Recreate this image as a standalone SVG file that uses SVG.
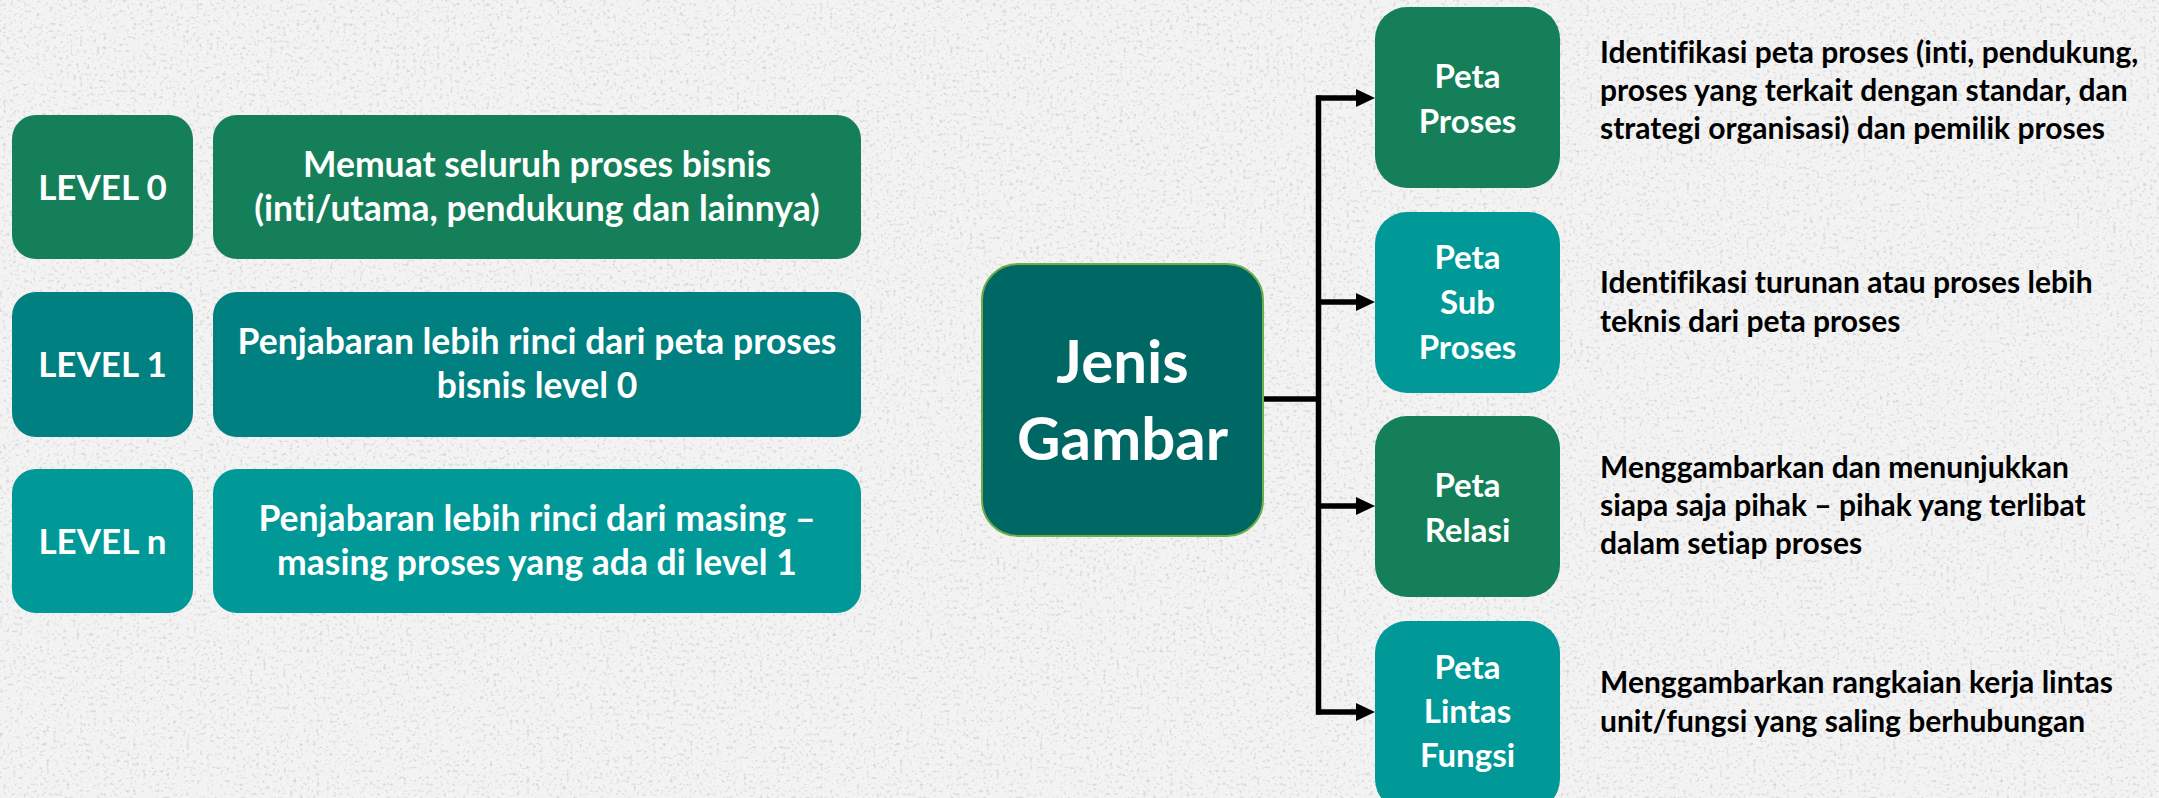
<svg xmlns="http://www.w3.org/2000/svg" width="2159" height="798" viewBox="0 0 2159 798">
  <style>
    text { font-variant-ligatures: none; }
    .lbl { font-family: Lato, "Open Sans", "Liberation Sans", sans-serif; font-weight: 700; fill: #ffffff; text-anchor: middle; }
    .lvl { font-size: 35px; }
    .main { font-size: 35.5px; }
    .peta { font-size: 33px; }
    .big { font-size: 60px; }
    .desc { font-family: Lato, "Open Sans", "Liberation Sans", sans-serif; font-weight: 700; font-size: 30px; fill: #000000; }
    .c-green { fill: #147f58; }
    .c-teal { fill: #008080; }
    .c-aqua { fill: #009997; }
    .conn { fill: none; stroke: #000000; stroke-width: 5.5; }
  </style>
  <defs>
    <filter id="grain" x="0" y="0" width="2159" height="798" filterUnits="userSpaceOnUse">
      <feTurbulence type="fractalNoise" baseFrequency="0.3" numOctaves="3" seed="11" result="noise"/>
      <feColorMatrix in="noise" type="matrix" values="0 0 0 0 0.68  0 0 0 0 0.68  0 0 0 0 0.68  4 0 0 0 -2.25"/>
    </filter>
    <marker id="head" markerUnits="userSpaceOnUse" markerWidth="20" markerHeight="19" refX="1" refY="9" orient="auto">
      <path d="M0,0 L19,9 L0,18 Z" fill="#000000"/>
    </marker>
  </defs>

  <!-- paper background -->
  <rect x="0" y="0" width="2159" height="798" fill="#f3f3f3"/>
  <rect x="0" y="0" width="2159" height="798" filter="url(#grain)"/>

  <!-- level rows -->
  <g id="level-0">
    <rect class="c-green" x="12" y="115" width="181" height="144" rx="24"/>
    <text class="lbl lvl" x="102.5" y="200">LEVEL 0</text>
  </g>
  <g id="level-0-desc">
    <rect class="c-green" x="213" y="115" width="648" height="144" rx="24"/>
    <text class="lbl main" x="537" y="177">Memuat seluruh proses bisnis</text>
    <text class="lbl main" x="537" y="221">(inti/utama, pendukung dan lainnya)</text>
  </g>
  <g id="level-1">
    <rect class="c-teal" x="12" y="292" width="181" height="145" rx="24"/>
    <text class="lbl lvl" x="102.5" y="377">LEVEL 1</text>
  </g>
  <g id="level-1-desc">
    <rect class="c-teal" x="213" y="292" width="648" height="145" rx="24"/>
    <text class="lbl main" x="537" y="354">Penjabaran lebih rinci dari peta proses</text>
    <text class="lbl main" x="537" y="398">bisnis level 0</text>
  </g>
  <g id="level-n">
    <rect class="c-aqua" x="12" y="469" width="181" height="144" rx="24"/>
    <text class="lbl lvl" x="102.5" y="554">LEVEL n</text>
  </g>
  <g id="level-n-desc">
    <rect class="c-aqua" x="213" y="469" width="648" height="144" rx="24"/>
    <text class="lbl main" x="537" y="531">Penjabaran lebih rinci dari masing –</text>
    <text class="lbl main" x="537" y="575">masing proses yang ada di level 1</text>
  </g>

  <!-- connectors -->
  <g id="connectors">
    <path class="conn" d="M1262,399 H1318.5"/>
    <path class="conn" d="M1318.5,95.5 V714.5"/>
    <path class="conn" d="M1316,98 H1357" marker-end="url(#head)"/>
    <path class="conn" d="M1318.5,302 H1357" marker-end="url(#head)"/>
    <path class="conn" d="M1318.5,506 H1357" marker-end="url(#head)"/>
    <path class="conn" d="M1316,712 H1357" marker-end="url(#head)"/>
  </g>

  <!-- central node -->
  <g id="jenis-gambar">
    <rect x="982" y="264" width="281" height="272" rx="36" fill="#006864" stroke="#70ad47" stroke-width="2"/>
    <text class="lbl big" x="1122.5" y="383">Jenis</text>
    <text class="lbl big" x="1122.5" y="460">Gambar</text>
  </g>

  <!-- map types -->
  <g id="peta-proses">
    <rect class="c-green" x="1375" y="7" width="185" height="181" rx="32"/>
    <text class="lbl peta" x="1467.5" y="88">Peta</text>
    <text class="lbl peta" x="1467.5" y="133">Proses</text>
  </g>
  <g id="peta-sub-proses">
    <rect class="c-aqua" x="1375" y="212" width="185" height="181" rx="32"/>
    <text class="lbl peta" x="1467.5" y="269">Peta</text>
    <text class="lbl peta" x="1467.5" y="314">Sub</text>
    <text class="lbl peta" x="1467.5" y="359">Proses</text>
  </g>
  <g id="peta-relasi">
    <rect class="c-green" x="1375" y="416" width="185" height="181" rx="32"/>
    <text class="lbl peta" x="1467.5" y="497">Peta</text>
    <text class="lbl peta" x="1467.5" y="542">Relasi</text>
  </g>
  <g id="peta-lintas-fungsi">
    <rect class="c-aqua" x="1375" y="621" width="185" height="190" rx="32"/>
    <text class="lbl peta" x="1467.5" y="679">Peta</text>
    <text class="lbl peta" x="1467.5" y="723">Lintas</text>
    <text class="lbl peta" x="1467.5" y="767">Fungsi</text>
  </g>

  <!-- descriptions -->
  <g id="desc-proses">
    <text class="desc" x="1600" y="63">Identifikasi peta proses (inti, pendukung,</text>
    <text class="desc" x="1600" y="101">proses yang terkait dengan standar, dan</text>
    <text class="desc" x="1600" y="139">strategi organisasi) dan pemilik proses</text>
  </g>
  <g id="desc-sub-proses">
    <text class="desc" x="1600" y="293">Identifikasi turunan atau proses lebih</text>
    <text class="desc" x="1600" y="332">teknis dari peta proses</text>
  </g>
  <g id="desc-relasi">
    <text class="desc" x="1600" y="478">Menggambarkan dan menunjukkan</text>
    <text class="desc" x="1600" y="516">siapa saja pihak – pihak yang terlibat</text>
    <text class="desc" x="1600" y="554">dalam setiap proses</text>
  </g>
  <g id="desc-lintas">
    <text class="desc" x="1600" y="693">Menggambarkan rangkaian kerja lintas</text>
    <text class="desc" x="1600" y="732">unit/fungsi yang saling berhubungan</text>
  </g>
</svg>
